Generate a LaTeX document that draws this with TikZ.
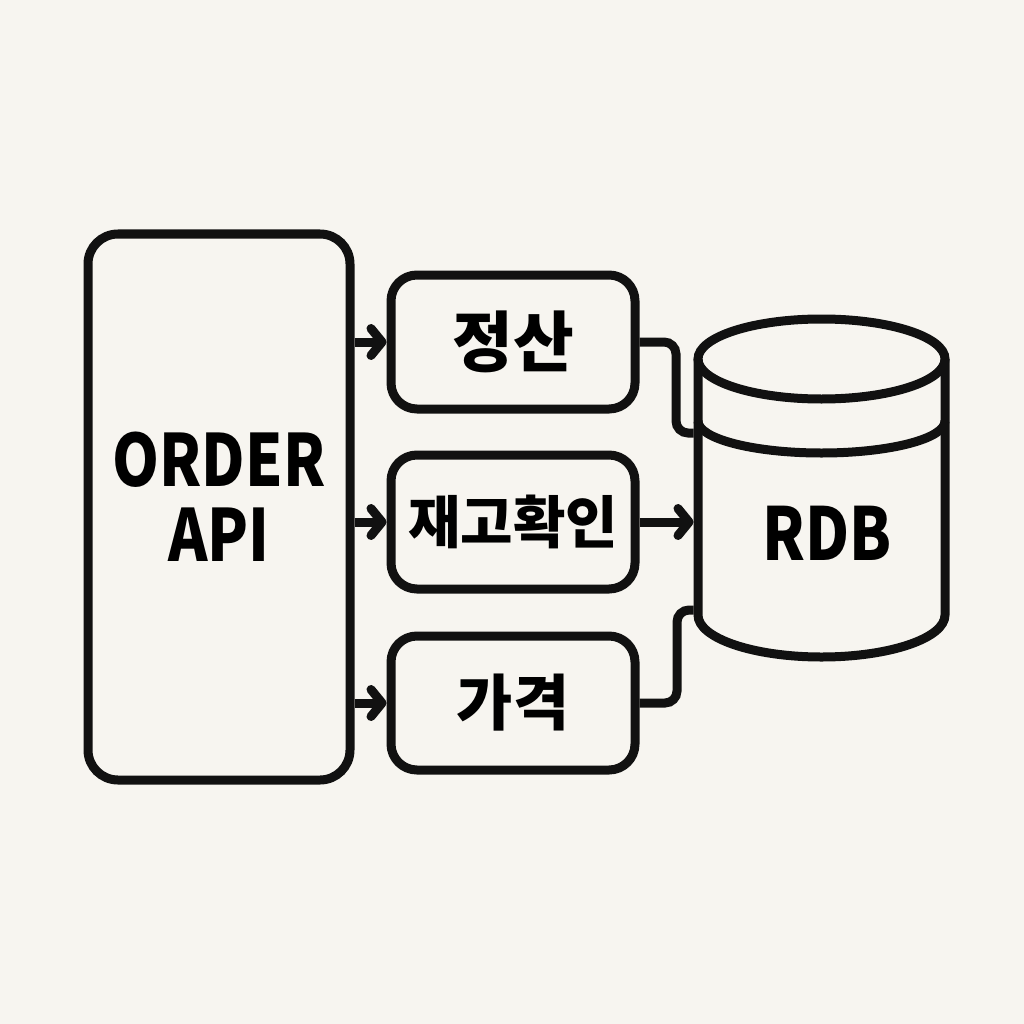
\documentclass[tikz,border=0pt]{standalone}
\usepackage{fontspec}
\setmainfont{Noto Sans CJK KR}
\newfontfamily\latinfont{Noto Sans CJK KR}[FakeStretch=0.83]
\usepackage{tikz}
\usetikzlibrary{shapes,arrows,arrows.meta,positioning}

\definecolor{paper}{HTML}{F7F5F0}
\definecolor{ink}{HTML}{111111}

\begin{document}
\begin{tikzpicture}[x=1pt,y=-1pt,line width=9pt,draw=ink,
	box/.style={draw,rounded corners=26pt,minimum width=244pt,minimum height=134pt,inner sep=0pt},
	arr/.style={-{Straight Barb[length=11pt 0,width=27pt 0,round]}},
	link/.style={rounded corners=12pt}]
	\fill[paper] (0,0) rectangle (1024,1024);

	\node[draw,rounded corners=30pt,minimum width=262pt,minimum height=546pt] (order) at (219,507) {};
	\node[align=center,font=\latinfont\bfseries\fontsize{72}{75}\selectfont] (ordertxt) at (219,497) {ORDER\\API};
	\node[box,font=\bfseries\fontsize{66}{66}\selectfont] (settle) at (513,342) {정산};
	\node[box,font=\bfseries\fontsize{57}{57}\selectfont] (stock) at (513,522) {재고확인};
	\node[box,font=\bfseries\fontsize{61}{61}\selectfont] (price) at (513,703) {가격};

	% database
	\node[minimum width=247pt,minimum height=340pt,inner sep=0pt] (db) at (821.5,488) {};
	\node[font=\latinfont\bfseries\fontsize{73}{73}\selectfont] (rdb) at (827,533) {RDB};
	\draw (821.5,359) ellipse[x radius=123.5pt,y radius=40pt];
	\draw (698,421) arc[start angle=180,end angle=360,x radius=123.5pt,y radius=32pt];
	\draw (698,359) -- (698,615) arc[start angle=180,end angle=360,x radius=123.5pt,y radius=42pt] -- (945,359);

	\path [arr] (order.east |- settle.west) edge (settle.west);
	\path [arr] (order.east |- stock.west) edge (stock.west);
	\path [arr] (order.east |- price.west) edge (price.west);

	\coordinate (t1) at (676,433);
	\coordinate (t3) at (677,610);
	\draw[link] (settle.east) -| (t1) -- (t1 -| db.west);
	\path [arr] (stock.east) edge (stock.east -| db.west);
	\draw[link] (price.east) -| (t3) -- (t3 -| db.west);
\end{tikzpicture}
\end{document}
